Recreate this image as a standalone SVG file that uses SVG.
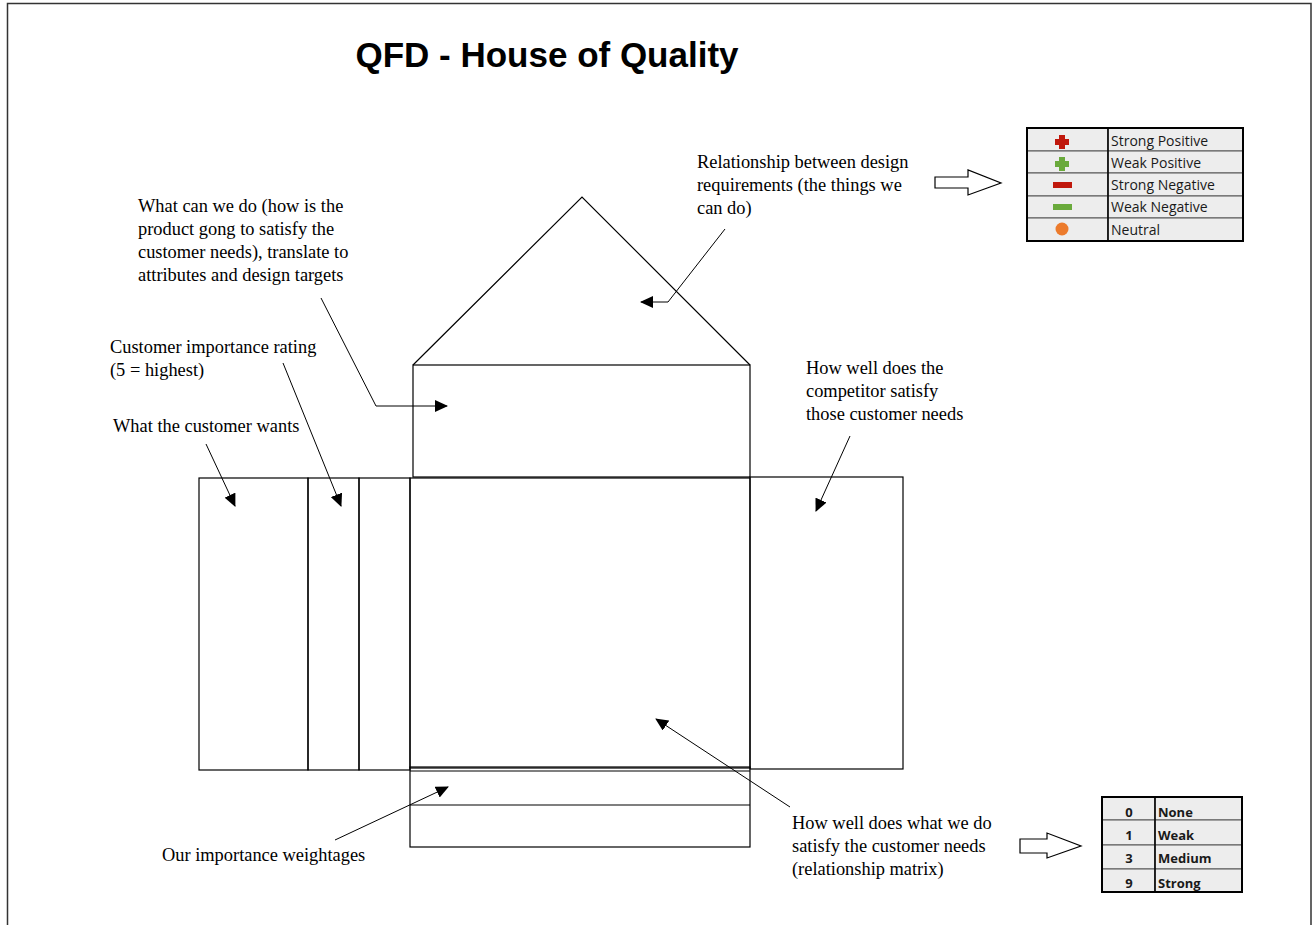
<svg xmlns="http://www.w3.org/2000/svg" width="1314" height="925" viewBox="0 0 1314 925">
  <style>
    .box { fill: none; stroke: #000; stroke-width: 1.2; }
    .lbl { font-family: "Liberation Serif", "Times New Roman", serif; font-size: 18.4px; fill: #000; }
    .tbl { font-family: "Open Sans", "Liberation Sans", sans-serif; font-size: 14px; fill: #1a1a1a; }
    .num { font-family: "Open Sans", "Liberation Sans", sans-serif; font-size: 13px; font-weight: bold; fill: #1a1a1a; }
    .cell { fill: #ededed; stroke: #555; stroke-width: 1; }
    .conn { fill: none; stroke: #000; stroke-width: 1; }
    .hollow { fill: #fff; stroke: #000; stroke-width: 1.2; }
  </style>
  <defs>
    <marker id="tip" viewBox="0 0 13 12" refX="12" refY="6" markerWidth="13" markerHeight="12" markerUnits="userSpaceOnUse" orient="auto">
      <path d="M0,0 L13,6 L0,12 Z" fill="#000"/>
    </marker>
  </defs>

  <rect width="1314" height="925" fill="#fff"/>
  <!-- page frame -->
  <path d="M7.5,925 V3.5 H1311 V925" fill="none" stroke="#333" stroke-width="1.5"/>

  <text x="547" y="67" text-anchor="middle" font-family="Liberation Sans, Arial, sans-serif" font-size="35" font-weight="bold">QFD - House of Quality</text>

  <!-- house outline -->
  <g id="roof">
    <path class="box" d="M413,365 L582,197 L750,365"/>
  </g>
  <g id="ceiling">
    <rect class="box" x="413" y="365" width="337" height="112"/>
  </g>
  <g id="matrix">
    <rect class="box" x="410" y="478" width="340" height="290"/>
  </g>
  <g id="customer-wants">
    <rect class="box" x="199" y="478" width="109" height="292"/>
  </g>
  <g id="importance-rating">
    <rect class="box" x="308" y="478" width="51" height="292"/>
  </g>
  <g id="spare-column">
    <rect class="box" x="359" y="478" width="51" height="292"/>
  </g>
  <g id="competitor">
    <rect class="box" x="750" y="477" width="153" height="292"/>
  </g>
  <g id="weightages">
    <rect class="box" x="410" y="767" width="340" height="80"/>
    <line class="box" x1="410" y1="771" x2="750" y2="771"/>
    <line class="box" x1="410" y1="805" x2="750" y2="805"/>
  </g>

  <!-- annotations -->
  <g id="labels">
    <text class="lbl" x="697" y="168">Relationship between design</text>
    <text class="lbl" x="697" y="191">requirements (the things we</text>
    <text class="lbl" x="697" y="214">can do)</text>

    <text class="lbl" x="138" y="212">What can we do (how is the</text>
    <text class="lbl" x="138" y="235">product gong to satisfy the</text>
    <text class="lbl" x="138" y="258">customer needs), translate to</text>
    <text class="lbl" x="138" y="281">attributes and design targets</text>

    <text class="lbl" x="110" y="353">Customer importance rating</text>
    <text class="lbl" x="110" y="376">(5 = highest)</text>

    <text class="lbl" x="113" y="432">What the customer wants</text>

    <text class="lbl" x="806" y="374">How well does the</text>
    <text class="lbl" x="806" y="397">competitor satisfy</text>
    <text class="lbl" x="806" y="420">those customer needs</text>

    <text class="lbl" x="792" y="829">How well does what we do</text>
    <text class="lbl" x="792" y="852">satisfy the customer needs</text>
    <text class="lbl" x="792" y="875">(relationship matrix)</text>

    <text class="lbl" x="162" y="861">Our importance weightages</text>
  </g>

  <g id="connectors">
    <polyline class="conn" points="725,229 668,302 641,302" marker-end="url(#tip)"/>
    <polyline class="conn" points="321,298 376,406 447,406" marker-end="url(#tip)"/>
    <line class="conn" x1="283" y1="363" x2="341" y2="506" marker-end="url(#tip)"/>
    <line class="conn" x1="206" y1="444" x2="235" y2="506" marker-end="url(#tip)"/>
    <line class="conn" x1="850" y1="436" x2="816" y2="511" marker-end="url(#tip)"/>
    <line class="conn" x1="790" y1="807" x2="656" y2="719" marker-end="url(#tip)"/>
    <line class="conn" x1="335" y1="840" x2="448" y2="787" marker-end="url(#tip)"/>
    <path class="hollow" d="M935,177 H968 V170 L1001,183 L968,195 V188 H935 Z"/>
    <path class="hollow" d="M1020,839 H1047 V833 L1081,846 L1047,858 V853 H1020 Z"/>
  </g>

  <!-- correlation legend -->
  <g id="legend-correlation">
    <rect class="cell" x="1027" y="128" width="81" height="23"/>
    <rect class="cell" x="1108" y="128" width="135" height="23"/>
    <rect class="cell" x="1027" y="151" width="81" height="22"/>
    <rect class="cell" x="1108" y="151" width="135" height="22"/>
    <rect class="cell" x="1027" y="173" width="81" height="23"/>
    <rect class="cell" x="1108" y="173" width="135" height="23"/>
    <rect class="cell" x="1027" y="196" width="81" height="22"/>
    <rect class="cell" x="1108" y="196" width="135" height="22"/>
    <rect class="cell" x="1027" y="218" width="81" height="23"/>
    <rect class="cell" x="1108" y="218" width="135" height="23"/>
    <rect x="1027" y="128" width="216" height="113" fill="none" stroke="#000" stroke-width="2"/>
    <line x1="1108" y1="128" x2="1108" y2="241" stroke="#000" stroke-width="1.5"/>
    <!-- symbols -->
    <path d="M1059,135 h6 v4 h4 v6 h-4 v4 h-6 v-4 h-4 v-6 h4 Z" fill="#c0180c"/>
    <path d="M1059,157 h6 v4 h4 v6 h-4 v4 h-6 v-4 h-4 v-6 h4 Z" fill="#6aaa3c"/>
    <rect x="1053" y="182" width="19" height="6" fill="#c0180c"/>
    <rect x="1053" y="204" width="19" height="6" fill="#6aaa3c"/>
    <circle cx="1062" cy="229" r="6.5" fill="#ec7b2c"/>
    <text class="tbl" x="1111" y="146">Strong Positive</text>
    <text class="tbl" x="1111" y="168">Weak Positive</text>
    <text class="tbl" x="1111" y="190">Strong Negative</text>
    <text class="tbl" x="1111" y="212">Weak Negative</text>
    <text class="tbl" x="1111" y="235">Neutral</text>
  </g>

  <!-- relationship strength legend -->
  <g id="legend-strength">
    <rect class="cell" x="1102" y="797" width="53" height="23"/>
    <rect class="cell" x="1155" y="797" width="87" height="23"/>
    <rect class="cell" x="1102" y="820" width="53" height="25"/>
    <rect class="cell" x="1155" y="820" width="87" height="25"/>
    <rect class="cell" x="1102" y="845" width="53" height="24"/>
    <rect class="cell" x="1155" y="845" width="87" height="24"/>
    <rect class="cell" x="1102" y="869" width="53" height="23"/>
    <rect class="cell" x="1155" y="869" width="87" height="23"/>
    <rect x="1102" y="797" width="140" height="95" fill="none" stroke="#000" stroke-width="2"/>
    <line x1="1155" y1="797" x2="1155" y2="892" stroke="#000" stroke-width="1.5"/>
    <text class="num" x="1129" y="817" text-anchor="middle">0</text>
    <text class="num" x="1129" y="840" text-anchor="middle">1</text>
    <text class="num" x="1129" y="863" text-anchor="middle">3</text>
    <text class="num" x="1129" y="888" text-anchor="middle">9</text>
    <text class="num" x="1158" y="817">None</text>
    <text class="num" x="1158" y="840">Weak</text>
    <text class="num" x="1158" y="863">Medium</text>
    <text class="num" x="1158" y="888">Strong</text>
  </g>
</svg>
